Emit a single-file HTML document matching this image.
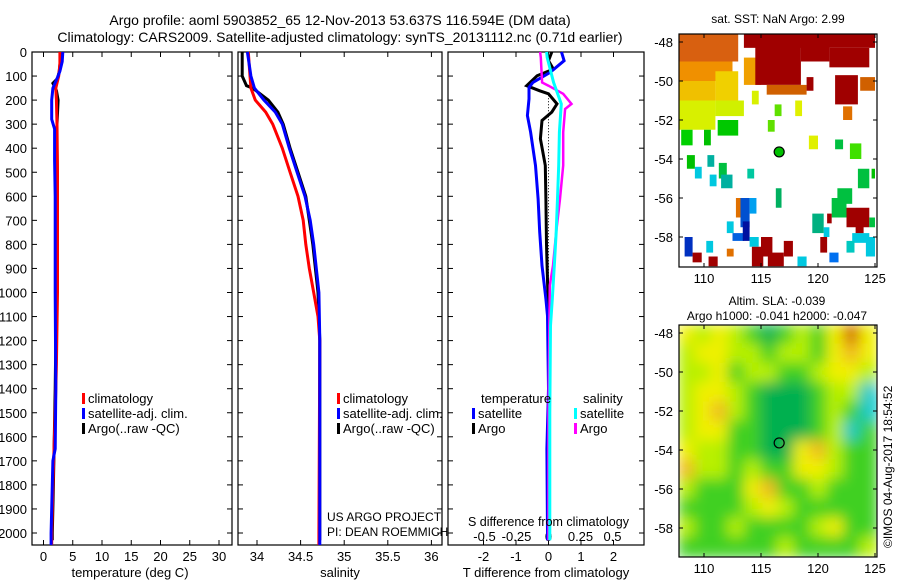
<!DOCTYPE html>
<html><head><meta charset="utf-8">
<style>
body{margin:0;background:#fff;}
svg{display:block;font-family:"Liberation Sans",sans-serif;}
text{fill:#000;}
</style></head>
<body>
<svg id="chart" width="900" height="580" xmlns="http://www.w3.org/2000/svg">
<defs>
<filter id="blur" x="0" y="0" width="100%" height="100%"><feGaussianBlur stdDeviation="7"/></filter>
<clipPath id="clip2"><rect x="679" y="325" width="198" height="232"/></clipPath>
</defs>
<text x="340" y="25" font-size="14" text-anchor="middle">Argo profile: aoml 5903852_65 12-Nov-2013 53.637S 116.594E (DM data)</text>
<text x="340" y="42" font-size="14" text-anchor="middle">Climatology: CARS2009. Satellite-adjusted climatology: synTS_20131112.nc (0.71d earlier)</text>
<g id="g"></g>
</svg>
<script>
// ---- data ----
const depthTicks=[0,100,200,300,400,500,600,700,800,900,1000,1100,1200,1300,1400,1500,1600,1700,1800,1900,2000];
const tempTicks=[0,5,10,15,20,25,30];
const salTicks=[34,34.5,35,35.5,36];
const salTickLabels=["34","34.5","35","35.5","36"];
const tdTicks=[-2,-1,0,1,2];
const sdTicks=[-0.5,-0.25,0,0.25,0.5];
const sdTickLabels=["-0.5","-0.25","0","0.25","0.5"];

const tClimD=[0,50,100,150,200,300,500,700,1000,1300,1500,1800,2000,2050];
const tClimV=[2.8,2.8,2.6,2.1,2.2,2.3,2.4,2.4,2.4,2.2,2.0,1.6,1.4,1.4];
const tSatD=[0,40,80,100,150,200,280,320,450,600,1000,1400,1650,1700,1800,2000,2050];
const tSatV=[3.3,3.2,2.8,2.5,1.6,1.4,1.4,1.9,1.9,2.0,2.0,2.1,2.0,1.6,1.5,1.3,1.3];
const tArgoD=[0,80,110,130,160,200,300,400,600,700,1000,1400,1800,2000,2030];
const tArgoV=[3.0,2.7,2.4,1.6,2.2,2.5,2.3,2.3,2.4,2.4,2.2,2.0,1.7,1.5,1.5];

const sClimD=[0,100,150,200,250,300,400,500,600,700,800,900,1000,1100,1200,2000,2050];
const sClimV=[33.9,33.92,33.93,33.98,34.1,34.18,34.29,34.38,34.47,34.53,34.56,34.6,34.65,34.7,34.72,34.71,34.71];
const sSatD=[0,100,150,200,250,300,400,500,600,700,800,900,1000,1200,2000,2050];
const sSatV=[33.89,33.93,33.97,34.08,34.21,34.29,34.37,34.46,34.55,34.61,34.65,34.68,34.71,34.72,34.72,34.72];
const sArgoD=[0,100,140,150,200,250,300,400,500,600,800,1000,1200,2000,2030];
const sArgoV=[33.83,33.83,33.88,33.95,34.13,34.24,34.3,34.38,34.47,34.56,34.64,34.7,34.72,34.72,34.72];

const dTSatD=[0,36,85,127,147,195,264,333,472,610,749,888,1027,1097,1400,1650,2000,2030];
const dTSatV=[0.4,0.48,0.05,-0.48,-0.6,-0.6,-0.65,-0.55,-0.4,-0.32,-0.27,-0.2,-0.08,-0.03,0,-0.05,-0.03,-0.03];
const dTArgoD=[0,36,71,99,140,161,174,216,250,285,361,472,610,800,1100,2000,2030];
const dTArgoV=[0.1,0.0,0.15,-0.35,-0.67,-0.28,0.0,0.26,0.1,-0.2,-0.25,-0.1,-0.08,-0.06,0,0,0];
const dSSatD=[0,23,127,216,333,472,610,749,888,1027,1138,1500,2000,2030];
const dSSatV=[-0.015,-0.01,0.04,0.1,0.085,0.08,0.07,0.06,0.045,0.03,0.016,0.01,0.01,0.01];
const dSArgoD=[0,23,127,140,174,216,237,333,472,610,749,888,970,1500,2000,2030];
const dSArgoV=[-0.066,-0.06,-0.05,0.0,0.115,0.18,0.13,0.115,0.115,0.09,0.06,0.035,0.01,0,0,0];

const latTicks=[-48,-50,-52,-54,-56,-58];
const lonTicks=[110,115,120,125];
const argoLon=116.594, argoLat=-53.637;
const sstPatches=[
[107.8,113,-47.6,-49],[107.8,112.5,-49,-50],[107.8,111,-50,-51],[111,113,-49.5,-51],[107.8,111,-51,-52.5],[111,113.5,-51,-51.8],
[108,109,-52.5,-53.3],[110,110.6,-52.5,-53.3],[111.2,113,-52,-52.8],[113.5,115,-48.8,-50.2],[114.5,118.5,-47.6,-50.2],[113.5,125,-47.6,-48.3],
[118.5,121,-48,-49],[121,124.5,-48.3,-49.3],[115.5,119,-50.2,-50.7],[119,119.6,-49.8,-50.5],[121.5,123.5,-49.7,-51.2],[123.7,125,-49.8,-50.5],
[122.2,123,-51.3,-52],[114.2,114.8,-50.5,-51.2],[116.2,116.8,-51.2,-51.8],[118,118.6,-51,-51.8],[115.6,116.2,-52,-52.6],[119.2,120,-52.8,-53.5],
[121.5,122.2,-53,-53.5],[122.8,123.8,-53.2,-54],[108.5,109.2,-53.8,-54.5],[110.3,110.9,-53.8,-54.4],[109.2,109.8,-54.4,-55],[110.5,111.1,-54.8,-55.4],
[111.3,112,-54.2,-55],[111.5,112.5,-54.8,-55.5],[113.8,114.4,-54.5,-55],[116.3,116.8,-55.5,-56.5],[121.7,123,-55.5,-56.3],[123.5,124.5,-54.5,-55.5],
[121.2,122.5,-56,-57],[124.7,125,-54.5,-55],[122.5,124.5,-56.5,-57.5],[120.8,121.2,-56.8,-57.3],[112.8,113.5,-56,-57],[113.2,114,-56,-57.5],
[114,114.6,-56,-56.8],[112,112.6,-57.2,-57.8],[112.5,113.5,-57.8,-58.2],[113.4,114,-57.2,-58.2],[114,114.8,-58,-58.5],[108.3,109,-58,-59],
[109,109.8,-58.8,-59.3],[110.2,110.8,-58.2,-58.8],[110.4,111.2,-59,-59.5],[112,112.6,-58.6,-59],[114.2,115.2,-58.5,-59.5],[115,116,-58,-59],
[115.6,117,-58.8,-59.5],[117,117.8,-58.2,-59],[118.2,119,-59,-59.5],[120.2,120.8,-58,-58.8],[121,121.8,-58.8,-59.3],[120.5,121,-57.5,-58],
[119.5,120.5,-56.8,-57.8],[123,124.5,-57.8,-58.3],[124.5,125,-57,-57.5],[124.2,125,-58,-59],[123.3,124,-57.2,-57.8],[122.5,123.2,-58.2,-58.8]];
const sstColors=["#d86010","#f09000","#f0c000","#f0d000","#d8f000","#d0f000","#00d000","#00c000","#00c800","#f0a000","#a00000","#a00000",
"#a00000","#a00000","#d06000","#a00000","#a00000","#d06000","#e07000","#d8f000","#60e000","#e0f000","#60e000","#e0f000",
"#00c040","#40e000","#00c000","#00b0a0","#00c8e0","#00c8e0","#00c040","#00b0a0","#00c8a0","#00b060","#00c040","#00c040",
"#00c040","#00c000","#a00000","#a00000","#e07000","#0050d0","#00a0f0","#00c8e0","#0060e0","#0010a0","#00c8e0","#0030c0",
"#a00000","#00c8e0","#a00000","#e07000","#a00000","#a00000","#a00000","#a00000","#00c8e0","#a00000","#0070f0","#00c8e0",
"#00b080","#00c8e0","#00c040","#00c8e0","#a00000","#00c8c0"];
const slaGrid=[
[3,2,3,2,1,0,1,2,1,3,5,3],[2,3,3,2,2,1,2,2,1,3,4,3],[2,2,3,1,2,2,1,1,2,3,3,2],[2,3,3,2,1,0,0,0,1,2,2,-1],
[2,3,4,2,1,0,0,0,1,2,1,-1],[2,3,3,1,1,0,0,0,1,2,-1,1],[3,2,2,1,1,0,0,3,4,2,1,1],[4,2,2,1,2,1,1,3,3,2,1,1],
[2,1,1,1,3,4,1,1,2,1,1,1],[1,1,1,1,2,3,2,1,1,1,1,1],[2,1,1,2,1,1,1,1,2,3,1,1],[1,1,1,1,1,1,2,1,1,1,1,2]];

// ---- helpers ----
const NS="http://www.w3.org/2000/svg";
const G=document.getElementById('g');
function el(tag,attrs,parent){const e=document.createElementNS(NS,tag);for(const k in attrs)e.setAttribute(k,attrs[k]);(parent||G).appendChild(e);return e;}
function txt(x,y,s,size,anchor,parent){const t=el('text',{x:x,y:y,'font-size':size,'text-anchor':anchor||'middle'},parent);t.textContent=s;return t;}
const TOP=52,BOT=545;
const yD=d=>TOP+d*0.2405;
const xT=t=>43.5+t*5.85;
const xS=s=>257+(s-34)*87.2;
const xDT=v=>548.5+v*32.5;
const xDS=v=>548.5+v*128;
const panels=[[32,232],[238,442],[448,644]];

panels.forEach((p,i)=>{
  const r=el('rect',{x:p[0],y:TOP,width:p[1]-p[0],height:BOT-TOP,fill:'none',stroke:'#000','stroke-width':1.2});
  
  
  depthTicks.forEach(d=>{
    el('line',{x1:p[0],x2:p[0]+5,y1:yD(d),y2:yD(d),stroke:'#000'});
    el('line',{x1:p[1]-5,x2:p[1],y1:yD(d),y2:yD(d),stroke:'#000'});
  });
});
depthTicks.forEach(d=>{
  const t=txt(27,yD(d)+5,String(d),13,'end');
  
  
});
function xticks(ticks,labels,fx,ly,name){
  ticks.forEach((v,i)=>{
    el('line',{x1:fx(v),x2:fx(v),y1:TOP,y2:TOP+5,stroke:'#000'});
    el('line',{x1:fx(v),x2:fx(v),y1:BOT-5,y2:BOT,stroke:'#000'});
    const t=txt(fx(v),ly,labels[i],13,'middle');
    
    
  });
}
xticks(tempTicks,tempTicks.map(String),xT,561,'temperature-tick-label');
xticks(salTicks,salTickLabels,xS,561,'salinity-tick-label');
xticks(tdTicks,tdTicks.map(String),xDT,561,'t-diff-tick-label');
sdTicks.forEach((v,i)=>{const t=txt(xDS(v),541,sdTickLabels[i],13,'middle');
  
  });

function line(D,V,fx,color,w,name){
  const pts=D.map((d,i)=>fx(V[i]).toFixed(1)+','+yD(d).toFixed(1)).join(' ');
  const l=el('polyline',{points:pts,fill:'none',stroke:color,'stroke-width':w,'stroke-linejoin':'miter'});
  
  
}
line(tArgoD,tArgoV,xT,'#000',3,'temp-argo-line');
line(tClimD,tClimV,xT,'#f00',3,'temp-climatology-line');
line(tSatD,tSatV,xT,'#00f',3,'temp-satellite-line');
line(sArgoD,sArgoV,xS,'#000',3,'sal-argo-line');
line(sClimD,sClimV,xS,'#f00',3,'sal-climatology-line');
line(sSatD,sSatV,xS,'#00f',3,'sal-satellite-line');
el('line',{x1:xDT(0),x2:xDT(0),y1:yD(180),y2:yD(1100),stroke:'#000','stroke-dasharray':'1,2'});
line(dTArgoD,dTArgoV,xDT,'#000',3,'tdiff-argo-line');
line(dTSatD,dTSatV,xDT,'#00f',3,'tdiff-satellite-line');
line(dSArgoD,dSArgoV,xDS,'#f0f',2.5,'sdiff-argo-line');
line(dSSatD,dSSatV,xDS,'#0ff',3,'sdiff-satellite-line');

function leg(x,y,color,label,name){
  el('rect',{x:x,y:y-10,width:3,height:11,fill:color});
  const t=txt(x+6,y,label,13,'start');
  
  
}
leg(82,403,'#f00','climatology','legend-temp-climatology');
leg(82,418,'#00f','satellite-adj. clim.','legend-temp-satellite');
leg(82,433,'#000','Argo(..raw -QC)','legend-temp-argo');
leg(337,403,'#f00','climatology','legend-sal-climatology');
leg(337,418,'#00f','satellite-adj. clim.','legend-sal-satellite');
leg(337,433,'#000','Argo(..raw -QC)','legend-sal-argo');
txt(481,403,'temperature',13,'start');
txt(583,403,'salinity',13,'start');
leg(472,418,'#00f','satellite','legend-tdiff-satellite');
leg(472,433,'#000','Argo','legend-tdiff-argo');
leg(574,418,'#0ff','satellite','legend-sdiff-satellite');
leg(574,433,'#f0f','Argo','legend-sdiff-argo');
txt(327,521,'US ARGO PROJECT',12,'start');
txt(327,536,'PI: DEAN ROEMMICH',12,'start');
txt(468,526,'S difference from climatology',12.5,'start');
[['temperature (deg C)',130],['salinity',340],['T difference from climatology',546]].forEach(a=>{
  const t=txt(a[1],577,a[0],13,'middle');
  
  
});

// ---- maps ----
const ML=679,MR=877;
const xLon=l=>704+(l-110)*11.4;
function mapAxes(top,bot,y48,name){
  const yLat=l=>y48+(-48-l)*19.5;
  const r=el('rect',{x:ML,y:top,width:MR-ML,height:bot-top,fill:'none',stroke:'#000','stroke-width':1.2});
  
  
  latTicks.forEach(l=>{el('line',{x1:ML,x2:ML+4,y1:yLat(l),y2:yLat(l),stroke:'#000'});el('line',{x1:MR-4,x2:MR,y1:yLat(l),y2:yLat(l),stroke:'#000'});
    txt(673,yLat(l)+5,String(l),13,'end');});
  lonTicks.forEach(l=>{el('line',{x1:xLon(l),x2:xLon(l),y1:bot-4,y2:bot,stroke:'#000'});el('line',{x1:xLon(l),x2:xLon(l),y1:top,y2:top+4,stroke:'#000'});
    txt(xLon(l),bot+16,String(l),13,'middle');});
  return yLat;
}
const yLat1=l=>42+(-48-l)*19.5;
sstPatches.forEach((p,i)=>{
  const r=el('rect',{x:xLon(p[0]),y:yLat1(p[2]),width:xLon(p[1])-xLon(p[0]),height:yLat1(p[3])-yLat1(p[2]),fill:sstColors[i]});
  
  
});
el('rect',{x:ML,y:25,width:MR-ML,height:9,fill:'#fff'});
el('rect',{x:ML,y:267,width:MR-ML,height:10,fill:'#fff'});
el('rect',{x:MR,y:34,width:10,height:233,fill:'#fff'});
mapAxes(34,267,42,'sst-map');
const c1=el('circle',{cx:xLon(argoLon),cy:yLat1(argoLat),r:5,fill:'#00c000',stroke:'#000','stroke-width':1.2});


txt(778,23,'sat. SST: NaN Argo: 2.99',12,'middle');

const slaCol={"-1":"#00c8c8","0":"#00b050","1":"#40d020","2":"#b8f000","3":"#f0f000","4":"#f0b820","5":"#d06000"};
const gSla=el('g',{'clip-path':'url(#clip2)'});
const gIn=el('g',{filter:'url(#blur)'},gSla);
el('rect',{x:ML,y:325,width:MR-ML,height:232,fill:'#40d020'},gIn);
const cw=(MR-ML)/12,ch=232/12;
slaGrid.forEach((row,r)=>row.forEach((v,c)=>{
  const e=el('rect',{x:ML+c*cw-1,y:325+r*ch-1,width:cw+2,height:ch+2,fill:slaCol[v]},gIn);
  
  
}));
const yLat2=mapAxes(325,557,333,'sla-map');
const c2=el('circle',{cx:xLon(argoLon),cy:yLat2(argoLat),r:5,fill:'none',stroke:'#000','stroke-width':1.2});


txt(777,305,'Altim. SLA: -0.039',12,'middle');
txt(777,320,'Argo h1000: -0.041 h2000: -0.047',12,'middle');
const v=txt(0,0,'©IMOS 04-Aug-2017 18:54:52',12,'start');
v.setAttribute('transform','translate(892,548) rotate(-90)');


</script>
</body></html>
